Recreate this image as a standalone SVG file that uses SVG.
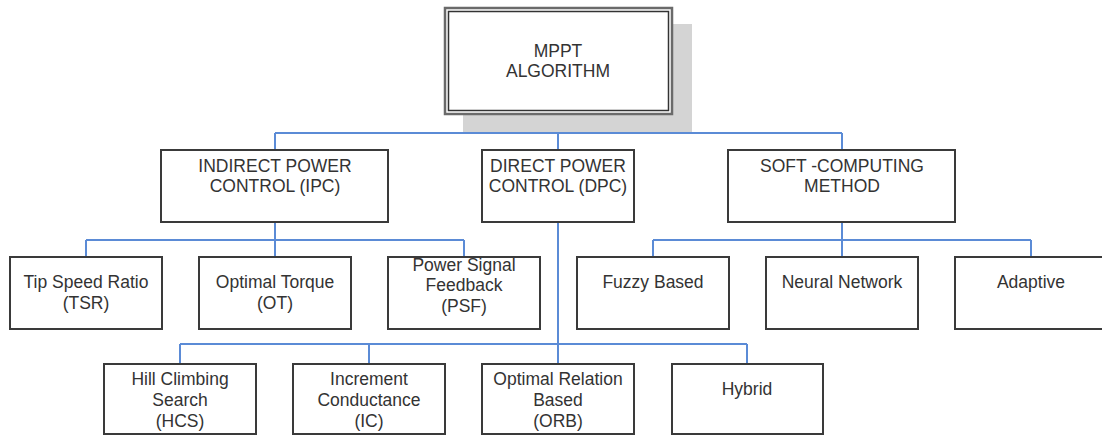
<svg xmlns="http://www.w3.org/2000/svg" width="1102" height="437" viewBox="0 0 1102 437">
<style>
.box{fill:#fff;stroke:#3a3a3a;stroke-width:2}
.t{font-family:"Liberation Sans",Arial,sans-serif;font-size:17.5px;fill:#333;text-anchor:middle}
.c{fill:none;stroke:#5b8bd6;stroke-width:2}
</style>
<rect width="1102" height="437" fill="#fff"/>
<g id="connectors">
<path class="c" d="M558 115V133M275 133H842M275 133V150M558 133V150M842 133V150"/>
<path class="c" d="M275 222V240M86 240H464M86 240V257M275 240V257M464 240V257"/>
<path class="c" d="M558 222V364M180 344H747M180 344V364M369 344V364M747 344V364"/>
<path class="c" d="M842 222V240M653 240H1031M653 240V257M842 240V257M1031 240V257"/>
</g>
<g id="mppt">
<rect x="463" y="24" width="229" height="108" fill="#d4d4d4"/>
<rect x="445" y="8" width="227" height="106" fill="#fff" stroke="#6a6a6a" stroke-width="2.5"/>
<rect x="448.5" y="11.5" width="220" height="99" fill="none" stroke="#333" stroke-width="1.5"/>
<text class="t" x="558" y="57">MPPT</text>
<text class="t" x="558" y="77">ALGORITHM</text>
</g>
<g id="ipc">
<rect class="box" x="161" y="150" width="227" height="72"/>
<text class="t" x="275" y="172">INDIRECT POWER</text>
<text class="t" x="275" y="192">CONTROL (IPC)</text>
</g>
<g id="dpc">
<rect class="box" x="482" y="150" width="152" height="72"/>
<text class="t" x="558" y="172">DIRECT POWER</text>
<text class="t" x="558" y="192">CONTROL (DPC)</text>
</g>
<g id="scm">
<rect class="box" x="728" y="150" width="227" height="72"/>
<text class="t" x="842" y="172">SOFT -COMPUTING</text>
<text class="t" x="842" y="192">METHOD</text>
</g>
<g id="tsr">
<rect class="box" x="10" y="257" width="152" height="72"/>
<text class="t" x="86" y="288">Tip Speed Ratio</text>
<text class="t" x="86" y="309">(TSR)</text>
</g>
<g id="ot">
<rect class="box" x="199" y="257" width="152" height="72"/>
<text class="t" x="275" y="288">Optimal Torque</text>
<text class="t" x="275" y="309">(OT)</text>
</g>
<g id="psf">
<rect class="box" x="388" y="257" width="152" height="72"/>
<text class="t" x="464" y="271">Power Signal</text>
<text class="t" x="464" y="291">Feedback</text>
<text class="t" x="464" y="312">(PSF)</text>
</g>
<g id="fuzzy">
<rect class="box" x="577" y="257" width="152" height="72"/>
<text class="t" x="653" y="288">Fuzzy Based</text>
</g>
<g id="neural">
<rect class="box" x="766" y="257" width="152" height="72"/>
<text class="t" x="842" y="288">Neural Network</text>
</g>
<g id="adaptive">
<rect class="box" x="955" y="257" width="152" height="72"/>
<text class="t" x="1031" y="288">Adaptive</text>
</g>
<g id="hcs">
<rect class="box" x="104" y="364" width="152" height="70"/>
<text class="t" x="180" y="385">Hill Climbing</text>
<text class="t" x="180" y="406">Search</text>
<text class="t" x="180" y="427">(HCS)</text>
</g>
<g id="ic">
<rect class="box" x="293" y="364" width="152" height="70"/>
<text class="t" x="369" y="385">Increment</text>
<text class="t" x="369" y="406">Conductance</text>
<text class="t" x="369" y="427">(IC)</text>
</g>
<g id="orb">
<rect class="box" x="482" y="364" width="152" height="70"/>
<text class="t" x="558" y="385">Optimal Relation</text>
<text class="t" x="558" y="406">Based</text>
<text class="t" x="558" y="427">(ORB)</text>
</g>
<g id="hybrid">
<rect class="box" x="672" y="364" width="151" height="70"/>
<text class="t" x="747" y="395">Hybrid</text>
</g>
</svg>
